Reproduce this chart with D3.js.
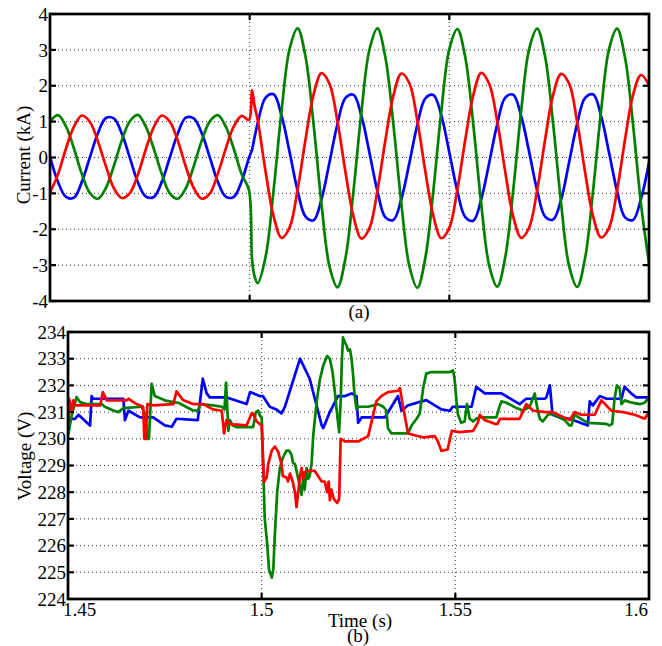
<!DOCTYPE html>
<html><head><meta charset="utf-8">
<script src="https://cdn.jsdelivr.net/npm/d3@7"></script>
<style>
body{margin:0;background:#fff}
svg{display:block}
</style>
</head><body>
<svg id="c" width="662" height="646"></svg>
<script>
// ---------- Panel (a): currents (kA) ----------
const tCur = [1.450,1.452,1.454,1.456,1.458,1.460,1.462,1.464,1.466,1.468,1.470,1.472,1.474,1.476,1.478,1.480,1.482,1.484,1.486,1.488,1.490,1.492,1.494,1.496,1.498,
  1.4998,1.5006,1.5012,
  1.502,1.504,1.506,1.508,1.510,1.512,1.514,1.516,1.518,1.520,1.522,1.524,1.526,1.528,1.530,1.532,1.534,1.536,1.538,1.540,1.542,1.544,1.546,1.548,1.550,
  1.552,1.554,1.556,1.558,1.560,1.562,1.564,1.566,1.568,1.570,1.572,1.574,1.576,1.578,1.580,1.582,1.584,1.586,1.588,1.590,1.592,1.594,1.596,1.598,1.600];
const iBlue = [0.02,-0.68,-1.10,-1.12,-0.67,0.01,0.68,1.10,1.09,0.66,-0.01,-0.69,-1.09,-1.10,-0.68,0.00,0.67,1.11,1.09,0.68,0.01,-0.67,-1.09,-1.10,-0.66,
  -0.02,0.22,0.55,
  0.95,1.67,1.76,1.16,0.15,-0.92,-1.65,-1.75,-1.16,-0.13,
  0.94,1.66,1.75,1.15,0.13,-0.94,-1.67,-1.74,-1.15,-0.15,
  0.92,1.65,1.74,1.17,0.14,-0.93,-1.66,-1.76,-1.16,-0.14,
  0.93,1.67,1.75,1.15,0.15,-0.92,-1.65,-1.73,-1.17,-0.13,
  0.94,1.66,1.76,1.16,0.13,-0.93,-1.67,-1.74,-1.15,-0.14];
const iGreen = [1.00,1.18,0.87,0.25,-0.47,-0.99,-1.15,-0.85,-0.23,0.48,1.01,1.19,0.86,0.24,-0.46,-1.00,-1.15,-0.86,-0.24,0.47,1.00,1.18,0.87,0.25,-0.47,
  -0.90,-2.85,-3.30,
  -3.50,-2.76,-0.90,1.31,3.03,3.60,2.80,0.93,-1.31,-3.04,
  -3.62,-2.80,-0.93,1.29,3.01,3.60,2.78,0.91,-1.30,-3.03,
  -3.63,-2.79,-0.92,1.30,3.02,3.58,2.79,0.92,-1.31,-3.02,
  -3.60,-2.78,-0.91,1.31,3.03,3.59,2.80,0.93,-1.29,-3.03,
  -3.61,-2.80,-0.92,1.30,3.02,3.59,2.78,0.92,-1.30,-2.95];
const iRed = [-0.98,-0.47,0.25,0.86,1.17,0.99,0.45,-0.24,-0.86,-1.13,-0.99,-0.48,0.23,0.85,1.17,1.00,0.47,-0.25,-0.85,-1.15,-1.01,-0.46,0.24,0.86,1.16,
  1.05,1.87,1.45,
  1.05,-0.40,-1.64,-2.24,-1.95,-0.90,0.51,1.75,2.35,2.05,
  1.00,-0.41,-1.65,-2.26,-1.97,-0.92,0.49,1.73,2.34,2.07,
  1.02,-0.39,-1.63,-2.25,-1.96,-0.90,0.50,1.74,2.36,2.05,
  1.01,-0.40,-1.65,-2.24,-1.95,-0.91,0.51,1.75,2.33,2.06,
  1.00,-0.41,-1.64,-2.23,-1.96,-0.92,0.50,1.74,2.30,2.02];
const curTicks = [-4,-3,-2,-1,0,1,2,3,4];

// ---------- Panel (b): voltages (V) ----------
const tVBlue = [1.4501,1.4518,1.4527,1.4557,1.4561,1.4565,1.4643,1.4647,1.4656,1.4686,1.4720,1.4750,1.4768,1.4780,1.4835,1.4848,1.4858,1.4866,1.4910,1.4961,
  1.4970,1.4995,1.5003,1.5021,1.5038,1.5051,1.5060,1.5099,1.5124,1.5155,1.5159,1.5176,1.5197,1.5215,1.5232,1.5245,1.5249,1.5258,1.5318,1.5352,
  1.5361,1.5377,1.5413,1.5425,1.5464,1.5486,1.5493,1.5542,1.5554,1.5576,1.5619,1.5666,1.5683,1.5731,1.5735,1.5744,1.5751,1.5769,1.5795,1.5842,
  1.5847,1.5855,1.5873,1.5890,1.5929,1.5937,1.5954,1.5967,1.6000];
const vBlue = [230.75,230.75,230.9,230.5,231.6,231.5,231.5,230.7,231.05,230.8,230.8,230.5,230.45,230.75,230.7,232.25,231.7,231.55,231.55,231.3,
  231.75,231.6,231.6,231.2,231.1,230.95,231.2,233.0,232.25,230.5,230.4,231.0,231.6,231.6,231.7,231.6,230.6,230.8,230.8,231.6,
  231.05,231.25,231.4,231.45,231.1,231.05,231.2,231.2,231.95,231.7,231.7,231.3,231.5,231.5,231.55,232.0,230.9,230.8,230.75,230.5,
  231.4,231.25,231.6,231.5,231.5,231.95,231.7,231.55,231.55];

const tVGreen = [1.4501,1.4510,1.4522,1.4531,1.4548,1.4587,1.4595,1.4617,1.4630,1.4643,
  1.4690,1.4700,1.4704,1.4709,1.4716,1.4724,1.4750,1.4772,1.4785,1.4823,
  1.4836,1.4841,1.4875,1.4897,1.4904,1.4908,1.4914,1.4918,1.4926,1.4935,
  1.4978,1.4985,1.4991,1.4995,1.5000,1.5004,1.5008,1.5014,1.5019,1.5026,
  1.5030,1.5034,1.5040,1.5047,1.5055,1.5064,1.5071,1.5077,1.5081,1.5086,
  1.5090,1.5099,1.5103,1.5107,1.5111,1.5116,1.5120,1.5124,1.5129,1.5133,
  1.5142,1.5150,1.5159,1.5169,1.5176,1.5183,1.5189,1.5195,1.5200,1.5204,
  1.5207,1.5210,1.5215,1.5219,1.5223,1.5228,1.5232,1.5236,1.5240,1.5245,
  1.5249,1.5275,1.5301,1.5314,1.5322,1.5326,1.5335,1.5378,1.5387,1.5400,
  1.5408,1.5417,1.5425,1.5438,1.5486,1.5494,1.5498,1.5503,1.5507,1.5515,
  1.5524,1.5530,1.5537,1.5546,1.5554,1.5563,1.5606,1.5615,1.5619,1.5632,
  1.5658,1.5675,1.5692,1.5705,1.5711,1.5718,1.5726,1.5739,1.5752,1.5769,
  1.5782,1.5795,1.5800,1.5808,1.5830,1.5842,1.5890,1.5898,1.5905,1.5911,
  1.5917,1.5924,1.5929,1.5937,1.5950,1.5976,1.5989,1.6000];
const vGreen = [230.2,230.9,231.56,231.375,231.3,231.3,231.2,231.06,231.0,231.15,
  231.2,230.9,230.0,230.0,232.06,231.6,231.44,231.375,231.35,231.06,
  231.06,231.3,231.25,231.2,231.1,232.1,230.3,230.7,230.5,230.44,
  230.44,231.0,231.05,230.875,230.8,228.9,227.0,226.1,225.1,224.8,
  225.1,226.4,228.0,228.9,229.3,229.56,229.56,229.4,229.1,229.05,
  228.8,228.2,227.9,228.5,228.1,228.9,228.5,228.6,229.1,230.1,
  231.4,232.2,232.75,233.1,233.0,232.5,231.75,230.9,230.25,231.4,
  232.9,233.8,233.6,233.5,233.3,233.35,233.0,232.4,231.6,231.1,
  231.2,231.2,231.3,231.2,231.06,230.4,230.2,230.2,230.5,230.75,
  230.94,231.9,232.44,232.5,232.5,232.56,232.25,231.4,230.9,230.6,
  230.65,231.3,230.75,230.65,230.75,230.8,230.8,231.25,231.4,231.35,
  231.15,231.06,231.2,231.7,231.2,230.75,230.65,230.9,230.94,230.8,
  230.7,230.5,230.5,230.9,230.7,230.6,230.56,230.5,230.56,231.5,
  232.0,231.9,231.3,231.44,231.375,231.3,231.35,231.56];

const tVRed = [1.4501,1.4503,1.4510,1.4514,1.4518,1.4583,1.4590,1.4600,1.4651,1.4656,
  1.4677,1.4694,1.4697,1.4701,1.4705,1.4720,1.4772,1.4780,1.4797,1.4823,
  1.4849,1.4874,1.4897,1.4903,1.4909,1.4918,1.4961,1.4974,1.4978,1.4987,
  1.5000,1.5006,1.5013,1.5017,1.5026,1.5034,1.5043,1.5051,1.5055,1.5064,
  1.5068,1.5073,1.5080,1.5086,1.5090,1.5099,1.5103,1.5107,1.5111,1.5120,
  1.5137,1.5146,1.5155,1.5163,1.5169,1.5173,1.5176,1.5180,1.5186,1.5195,
  1.5200,1.5204,1.5215,1.5249,1.5275,1.5296,1.5309,1.5326,1.5352,1.5357,
  1.5365,1.5378,1.5417,1.5447,1.5455,1.5464,1.5480,1.5491,1.5511,1.5546,
  1.5558,1.5563,1.5576,1.5602,1.5609,1.5615,1.5666,1.5683,1.5700,1.5731,
  1.5752,1.5795,1.5808,1.5825,1.5860,1.5877,1.5903,1.5933,1.5963,1.5989,
  1.6000];
const vRed = [230.25,231.5,231.06,231.44,231.25,231.25,231.75,231.44,231.44,231.5,
  231.3,231.2,230.0,230.0,231.3,231.25,231.3,231.78,231.45,231.3,
  231.3,231.1,231.05,230.2,230.7,230.55,230.5,230.95,230.94,230.65,
  230.5,228.38,228.56,229.06,229.56,229.71,229.5,229.06,228.6,228.55,
  228.4,228.7,228.4,228.0,227.44,228.6,228.9,228.5,228.75,228.8,
  228.8,228.6,228.4,228.4,228.0,228.4,227.7,228.1,227.75,227.6,
  227.75,230.0,229.9,229.9,230.1,231.4,231.6,231.75,231.8,231.9,
  231.2,230.2,230.05,230.1,229.9,229.55,229.6,230.3,230.25,230.3,
  230.6,230.9,230.7,230.56,230.56,230.75,230.75,231.3,231.06,231.0,
  231.0,230.7,231.0,230.9,230.9,231.44,231.05,231.0,230.9,230.75,
  231.0];
const voltTicks = [224,225,226,227,228,229,230,231,232,233,234];
const timeTicks = [1.45,1.5,1.55,1.6];
const timeTickLabels = ["1.45","1.5","1.55","1.6"];

const COL = {blue:"#0000ff", green:"#008000", red:"#ff0000"};
const FONT = "'Liberation Serif', 'Times New Roman', Times, serif";

const svg = d3.select("#c");

function zip(t, v){ const n=Math.min(t.length,v.length); const a=[]; for(let i=0;i<n;i++) a.push([t[i],v[i]]); return a; }
function txt(sel){ return sel.attr("font-family",FONT).attr("font-size",19).attr("fill","#000"); }

function panel(o){
  const x = d3.scaleLinear().domain([1.45,1.6]).range([o.x0,o.x1]);
  const y = d3.scaleLinear().domain(o.yDom).range([o.y1,o.y0]);
  const g = svg.append("g");
  const grid = g.append("g").attr("stroke","#333").attr("stroke-width",1).attr("stroke-dasharray","1,3");
  o.yTicks.forEach(v=>{ if(v===o.yDom[0]||v===o.yDom[1]) return;
    grid.append("line").attr("x1",o.x0).attr("x2",o.x1).attr("y1",y(v)).attr("y2",y(v)); });
  [1.5,1.55].forEach(v=>{
    grid.append("line").attr("x1",x(v)).attr("x2",x(v)).attr("y1",o.y0).attr("y2",o.y1); });
  const clipId = "clip"+o.id;
  svg.append("defs").append("clipPath").attr("id",clipId).append("rect")
     .attr("x",o.x0).attr("y",o.y0).attr("width",o.x1-o.x0).attr("height",o.y1-o.y0);
  const line = d3.line().x(d=>x(d[0])).y(d=>y(d[1])).curve(o.curve);
  const lg = g.append("g").attr("clip-path","url(#"+clipId+")");
  o.series.forEach(s=>{
    lg.append("path").attr("d",line(s.data)).attr("fill","none").attr("stroke",s.color)
      .attr("stroke-width",2.7).attr("stroke-linejoin","round").attr("stroke-linecap","round");
  });
  const tk = g.append("g").attr("stroke","#000").attr("stroke-width",2.2);
  const L=6;
  o.yTicks.forEach(v=>{
    tk.append("line").attr("x1",o.x0).attr("x2",o.x0+L).attr("y1",y(v)).attr("y2",y(v));
    tk.append("line").attr("x1",o.x1).attr("x2",o.x1-L).attr("y1",y(v)).attr("y2",y(v));
  });
  [1.5,1.55].forEach(v=>{
    tk.append("line").attr("x1",x(v)).attr("x2",x(v)).attr("y1",o.y1).attr("y2",o.y1-L);
    tk.append("line").attr("x1",x(v)).attr("x2",x(v)).attr("y1",o.y0).attr("y2",o.y0+L);
  });
  g.append("rect").attr("x",o.x0).attr("y",o.y0).attr("width",o.x1-o.x0).attr("height",o.y1-o.y0)
    .attr("fill","none").attr("stroke","#000").attr("stroke-width",2.7);
  o.yTicks.forEach(v=>{
    txt(g.append("text")).attr("x",o.labX).attr("y",y(v)).attr("dy","0.35em")
     .attr("text-anchor","end").text(String(v));
  });
  return {x,y,g};
}

// Panel (a)
panel({id:"a", x0:50, x1:649, y0:14, y1:301, yDom:[-4,4], yTicks:curTicks, labX:48,
  curve:d3.curveCatmullRom.alpha(0.5),
  series:[{data:zip(tCur,iBlue),color:COL.blue},{data:zip(tCur,iGreen),color:COL.green},{data:zip(tCur,iRed),color:COL.red}]});
txt(svg.append("text")).attr("transform","translate(30,155) rotate(-90)").attr("text-anchor","middle").text("Current (kA)");
txt(svg.append("text")).attr("x",359).attr("y",318).attr("text-anchor","middle").text("(a)");

// Panel (b)
const pb = panel({id:"b", x0:68, x1:649, y0:332, y1:599, yDom:[224,234], yTicks:voltTicks, labX:66,
  curve:d3.curveLinear,
  series:[{data:zip(tVBlue,vBlue),color:COL.blue},{data:zip(tVGreen,vGreen),color:COL.green},{data:zip(tVRed,vRed),color:COL.red}]});
timeTicks.forEach((v,i)=>{
  const anchor = i===0 ? "start" : (i===timeTicks.length-1 ? "end" : "middle");
  const xx = i===0 ? pb.x(v)-5 : (i===timeTicks.length-1 ? pb.x(v)-1 : pb.x(v));
  txt(svg.append("text")).attr("x",xx).attr("y",616).attr("text-anchor",anchor).text(timeTickLabels[i]);
});
txt(svg.append("text")).attr("transform","translate(31,456) rotate(-90)").attr("text-anchor","middle").text("Voltage (V)");
txt(svg.append("text")).attr("x",360).attr("y",627).attr("text-anchor","middle").text("Time (s)");
txt(svg.append("text")).attr("x",358).attr("y",642).attr("text-anchor","middle").text("(b)");
</script>
</body></html>
